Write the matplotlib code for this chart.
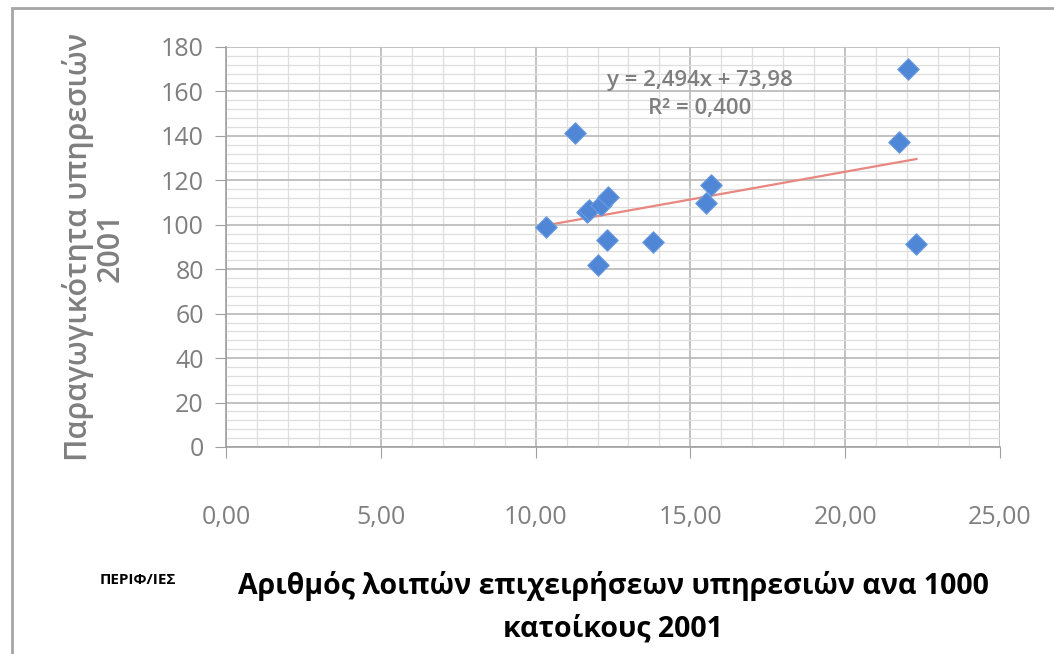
import numpy as np
import matplotlib
matplotlib.use("Agg")
import matplotlib.pyplot as plt
from matplotlib.ticker import MultipleLocator, FuncFormatter
from matplotlib.patches import Rectangle

plt.rcParams['font.family'] = ['Open Sans', 'DejaVu Sans']

# values
businesses = [10.35, 11.26, 11.66, 11.74, 12.12, 12.33, 12.30, 12.01,
              13.78, 15.50, 15.67, 22.04, 21.74, 22.30]
productivity = [99.1, 141.1, 105.9, 106.7, 108.9, 112.4, 93.2, 81.9,
                92.4, 109.7, 117.9, 170.0, 137.4, 91.4]
slope, intercept = 2.494, 73.98
r2_text = "0,400"

GREY = '#7f7f7f'

fig = plt.figure(figsize=(10.54, 6.54), dpi=100)
fig.patches.append(Rectangle((12 / 1054, -0.1), 1.2, 1 - 8 / 654 + 0.1,
                             transform=fig.transFigure, fill=False,
                             edgecolor='#a6a6a6', lw=2))
ax = fig.add_axes([226 / 1054, 1 - 447 / 654, 774 / 1054, 400 / 654])

ax.set_xlim(0, 25)
ax.set_ylim(0, 180)
ax.xaxis.set_major_locator(MultipleLocator(5))
ax.xaxis.set_minor_locator(MultipleLocator(1))
ax.yaxis.set_major_locator(MultipleLocator(20))
ax.yaxis.set_minor_locator(MultipleLocator(4))
ax.xaxis.set_major_formatter(FuncFormatter(lambda v, p: f"{v:.2f}".replace('.', ',')))
ax.grid(which='major', color='#b8b8b8', lw=1.2)
ax.grid(which='minor', color='#dedede', lw=0.9)
ax.set_axisbelow(True)

for s in ['top', 'right']:
    ax.spines[s].set_visible(False)
for s in ['left', 'bottom']:
    ax.spines[s].set_color('#a0a0a0')
    ax.spines[s].set_linewidth(1.2)
ax.tick_params(which='major', length=8, color='#a0a0a0', labelcolor=GREY,
               labelsize=18, pad=8)
ax.tick_params(which='minor', length=0)
ax.tick_params(axis='x', pad=34)

ax.scatter(businesses, productivity, marker='D', s=120, color='#4f86d6',
           edgecolors='#6a9be0', linewidths=0.8, zorder=3)

xs = np.array([min(businesses), max(businesses)])
ax.plot(xs, slope * xs + intercept, color='#e8877f', lw=1.6, zorder=2)

eq = f"y = {slope:.3f}x + {intercept:.2f}".replace('.', ',')
ax.text(0.612, 0.882, eq + "\nR² = " + r2_text, transform=ax.transAxes,
        ha='center', va='center', color=GREY, fontsize=16,
        fontweight='semibold', linespacing=1.45)

ax.set_ylabel("Παραγωγικότητα υπηρεσιών\n2001", color=GREY, fontsize=22,
              fontweight='semibold', labelpad=25, linespacing=1.1)
ax.set_xlabel("Αριθμός λοιπών επιχειρήσεων υπηρεσιών ανα 1000\nκατοίκους 2001",
              color='black', fontsize=20.5, fontweight='bold', labelpad=29,
              linespacing=1.65)
fig.text(100 / 1054, 1 - 580 / 654, "ΠΕΡΙΦ/ΙΕΣ", fontsize=11,
         fontweight='bold', color='black', ha='left', va='center')

fig.savefig("out.png", dpi=100)
